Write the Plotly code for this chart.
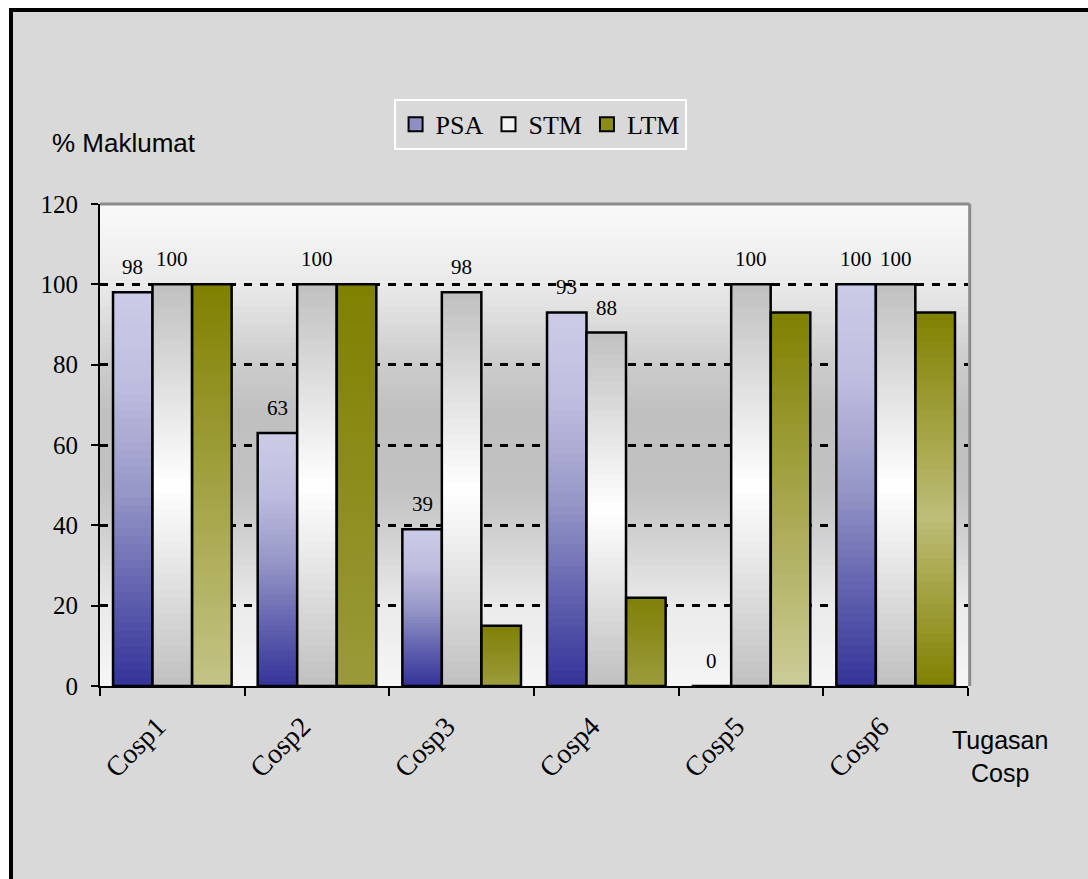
import plotly.graph_objects as go

# ---------------- data ----------------
categories = ["Cosp1", "Cosp2", "Cosp3", "Cosp4", "Cosp5", "Cosp6"]
psa = [98, 63, 39, 93, 0, 100]
stm = [100, 100, 98, 88, 100, 100]
ltm = [100, 100, 15, 22, 93, 93]
series_names = ["PSA", "STM", "LTM"]
y_ticks = [0, 20, 40, 60, 80, 100, 120]

# ---------------- styles ----------------
SERIF = "Liberation Serif, Times New Roman, serif"
SANS = "Liberation Sans, Arial, sans-serif"

psa_grad = [(0, (51, 51, 153)), (0.25, (100, 100, 176)), (0.5, (152, 152, 200)),
            (0.75, (188, 188, 222)), (1, (204, 204, 232))]
stm_grad = [(0, (192, 192, 192)), (0.5, (255, 255, 255)), (1, (192, 192, 192))]
ltm_grads = [
    [(0, (196, 196, 134)), (1, (128, 128, 0))],
    [(0, (154, 154, 58)), (1, (128, 128, 0))],
    [(0, (156, 156, 60)), (1, (128, 128, 8))],
    [(0, (156, 156, 60)), (1, (128, 128, 8))],
    [(0, (204, 204, 152)), (1, (128, 128, 0))],
    [(0, (128, 128, 0)), (0.45, (190, 190, 120)), (1, (128, 128, 0))],
]
bg_grad = [(0, 246), (20 / 120, 234), (38 / 120, 208), (50 / 120, 194), (68 / 120, 192),
           (82 / 120, 206), (100 / 120, 234), (1, 250)]

legend_colors = ["#8f8fc4", "#f4f4f4", "#8c8c1c"]
offsets = [-0.41, -0.137, 0.137]
bar_w = 0.273
N = 50
PX_PER_CAT = 868 / 6


def interp(stops, t):
    for (t0, c0), (t1, c1) in zip(stops[:-1], stops[1:]):
        if t0 <= t <= t1:
            f = (t - t0) / (t1 - t0) if t1 > t0 else 0
            if isinstance(c0, tuple):
                return tuple(round(a + (b - a) * f) for a, b in zip(c0, c1))
            return round(c0 + (c1 - c0) * f)
    return stops[-1][1]


def rgb(c):
    return "rgb(%d,%d,%d)" % c


fig = go.Figure()

# legend entries (draw nothing; only legend icons)
for name, col in zip(series_names, legend_colors):
    fig.add_trace(go.Scatter(x=[None], y=[None], name=name, mode="markers",
                             marker=dict(symbol="square", size=14, color=col,
                                         line=dict(color="black", width=2)),
                             showlegend=True, hoverinfo="skip"))

series_vals = [psa, stm, ltm]
series_grads = [[psa_grad] * 6, [stm_grad] * 6, ltm_grads]

for s, (vals, grads) in enumerate(zip(series_vals, series_grads)):
    # gradient slices, tallest first
    for j in range(N - 1, -1, -1):
        t = (j + 0.5) / N
        fig.add_trace(go.Bar(
            x=categories, y=[v * (j + 1) / N for v in vals],
            marker=dict(color=[rgb(interp(g, t)) for g in grads], line=dict(width=0)),
            offset=offsets[s], width=bar_w, showlegend=False, hoverinfo="skip"))
    # outline
    fig.add_trace(go.Bar(
        x=categories, y=vals,
        marker=dict(color="rgba(0,0,0,0)", line=dict(color="black", width=2.5)),
        offset=offsets[s], width=bar_w, showlegend=False, name=series_names[s]))

annotations = []
# value labels for PSA and STM
for s in range(2):
    for cat, v in zip(categories, series_vals[s]):
        annotations.append(dict(
            text=str(v), x=cat, y=v, xref="x", yref="y",
            xshift=(offsets[s] + bar_w / 2) * PX_PER_CAT, yshift=11,
            xanchor="center", yanchor="bottom", showarrow=False,
            font=dict(family=SERIF, size=21, color="black")))

annotations += [
    dict(text="% Maklumat", xref="paper", yref="paper", x=(50 - 100) / 868,
         y=(686 - 143) / 482, xanchor="left", yanchor="middle", showarrow=False,
         font=dict(family=SANS, size=26, color="black")),
    dict(text="Tugasan<br>Cosp", xref="paper", yref="paper", x=(1000 - 100) / 868,
         y=(686 - 756) / 482, xanchor="center", yanchor="middle", showarrow=False,
         align="center", font=dict(family=SANS, size=25, color="black")),
]

shapes = []
# outer chart area with black border
shapes.append(dict(type="rect", xref="paper", yref="paper",
                   x0=(11 - 100) / 868, x1=(1110 - 100) / 868,
                   y0=(686 - 900) / 482, y1=(686 - 10) / 482,
                   fillcolor="#d9d9d9", line=dict(color="black", width=4), layer="below"))
# plot area gradient
NB = 80
for k in range(NB):
    g = interp(bg_grad, (k + 0.5) / NB)
    shapes.append(dict(type="rect", xref="paper", yref="paper", x0=0, x1=1,
                       y0=k / NB, y1=min(1, (k + 1) / NB + 0.003),
                       fillcolor="rgb(%d,%d,%d)" % (g, g, g), line=dict(width=0), layer="below"))
# gray top / right border
shapes.append(dict(type="line", xref="paper", yref="paper", x0=0, x1=1.002, y0=1, y1=1,
                   line=dict(color="#8c8c8c", width=3), layer="between"))
shapes.append(dict(type="line", xref="paper", yref="paper", x0=1.002, x1=1.002, y0=0, y1=1,
                   line=dict(color="#8c8c8c", width=3), layer="between"))

fig.update_layout(
    width=1088, height=879, autosize=False,
    margin=dict(l=100, r=120, t=204, b=193, pad=0),
    paper_bgcolor="white", plot_bgcolor="rgba(0,0,0,0)",
    barmode="overlay",
    shapes=shapes,
    annotations=annotations,
    showlegend=True,
    legend=dict(orientation="h", x=0.507, xanchor="center", y=1.218, yanchor="top",
                bgcolor="#d9d9d9", bordercolor="white", borderwidth=2,
                font=dict(family=SERIF, size=26, color="black"), traceorder="normal",
                itemwidth=30, tracegroupgap=0),
    xaxis=dict(type="category", showline=True, linecolor="black", linewidth=2,
               ticks="outside", tickson="boundaries", ticklen=8, tickwidth=2, tickcolor="black",
               tickangle=-45, ticklabelstandoff=-4,
               tickvals=categories, ticktext=[c + "\u00a0\u00a0\u00a0" for c in categories],
               tickfont=dict(family=SERIF, size=28, color="black"), showgrid=False),
    yaxis=dict(range=[0, 120], tickvals=y_ticks, showline=True, linecolor="black", linewidth=2,
               ticks="outside", ticklen=7, tickwidth=2, tickcolor="black",
               ticklabelstandoff=8,
               tickfont=dict(family=SERIF, size=25, color="black"),
               showgrid=True, gridcolor="black", gridwidth=3, griddash="8px,8px",
               zeroline=False),
)

fig.write_html("out.html")
